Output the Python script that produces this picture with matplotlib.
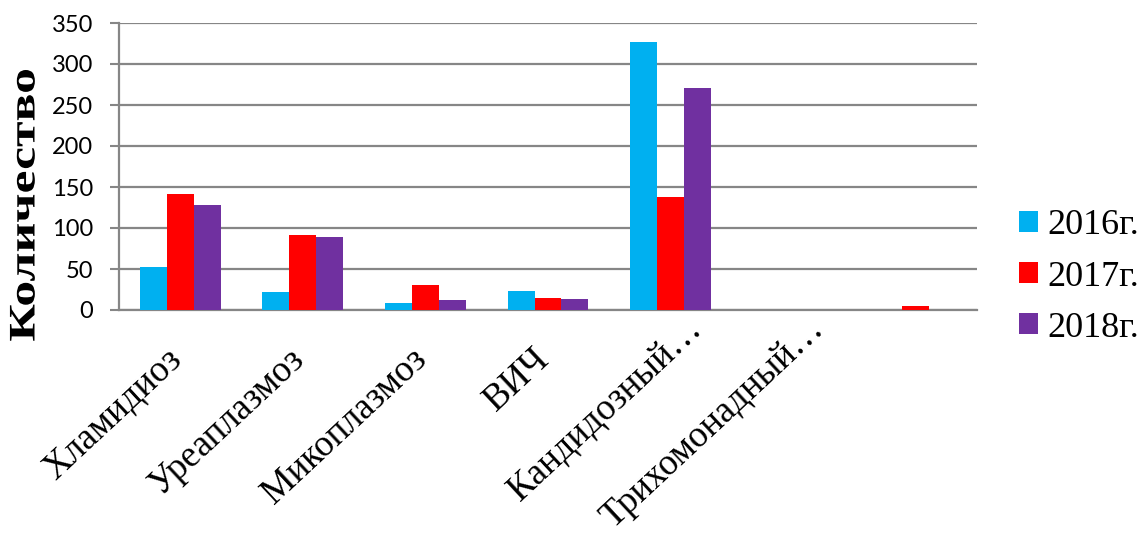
import matplotlib
matplotlib.use("Agg")
import matplotlib.pyplot as plt
from matplotlib.patches import Patch
from matplotlib.patheffects import AbstractPathEffect
from matplotlib.transforms import Affine2D
import numpy as np

categories = ["Хламидиоз", "Уреаплазмоз", "Микоплазмоз", "ВИЧ",
              "Кандидозный…", "Трихомонадный…", ""]
years = ["2016г.", "2017г.", "2018г."]
values_2016 = [52, 22, 9, 23, 327, 0, 0]
values_2017 = [141, 91, 30, 15, 138, 0, 5]
values_2018 = [128, 89, 12, 14, 271, 0, 0]
colors = ["#00B0F0", "#FF0000", "#7030A0"]
y_ticks = [0, 50, 100, 150, 200, 250, 300, 350]

series = [values_2016, values_2017, values_2018]


class VerticalStretch(AbstractPathEffect):
    """Draw the text outline stretched vertically about its own centre."""

    def __init__(self, factor):
        super().__init__()
        self.factor = factor

    def draw_path(self, renderer, gc, tpath, affine, rgbFace=None):
        ext = tpath.get_extents(affine)
        cx, cy = (ext.x0 + ext.x1) / 2, (ext.y0 + ext.y1) / 2
        stretch = Affine2D().translate(-cx, -cy).scale(1, self.factor).translate(cx, cy)
        renderer.draw_path(gc, tpath, affine + stretch, rgbFace)


W, H, DPI = 1146, 533, 100
fig = plt.figure(figsize=(W / DPI, H / DPI), dpi=DPI)
ax = fig.add_axes([119 / W, 1 - 310 / H, (977 - 119) / W, (310 - 23) / H])

grid_color = "#868686"
x = np.arange(len(categories))
bw = 0.22
for k, (vals, col) in enumerate(zip(series, colors)):
    ax.bar(x + (k - 1) * bw, vals, width=bw, color=col, edgecolor="none", zorder=3)

ax.set_xlim(-0.5, len(categories) - 0.5)
ax.set_ylim(0, 350)
ax.set_yticks(y_ticks)
ax.set_yticklabels([str(t) for t in y_ticks], family="Lato", fontsize=17)
ax.tick_params(axis="y", direction="out", length=6.5, width=1.5, color=grid_color, pad=12)
ax.set_xticks([])
ax.yaxis.grid(True, color=grid_color, linewidth=1.6, zorder=0)
ax.set_axisbelow(True)
for s in ["top", "right"]:
    ax.spines[s].set_visible(False)
for s in ["left", "bottom"]:
    ax.spines[s].set_color(grid_color)
    ax.spines[s].set_linewidth(1.6)

# category labels, rotated; shortened names end further along the diagonal
for i, name in enumerate(categories):
    if not name:
        continue
    dx, dy = (32, -21) if name.endswith("…") else (3, -51)
    ax.annotate(name, xy=(i, 0), xycoords=("data", "axes fraction"),
                xytext=(dx, dy), textcoords="offset pixels",
                rotation=43, rotation_mode="anchor", ha="right", va="baseline",
                family="Liberation Serif", fontsize=26.5, annotation_clip=False)

ylab = fig.text(25 / W, 1 - 205 / H, "Количество", rotation=90, ha="center", va="center",
                family="Liberation Serif", fontweight="bold", fontsize=27)
ylab.set_path_effects([VerticalStretch(1.38)])

handles = [Patch(facecolor=c, edgecolor="none") for c in colors]
fig.legend(handles, years, loc="center left", bbox_to_anchor=(1019 / W, 1 - 277 / H),
           frameon=False, prop={"family": "Liberation Serif", "size": 26},
           handlelength=0.53, handleheight=0.53, handletextpad=0.25,
           labelspacing=0.5, borderpad=0, borderaxespad=0)

fig.savefig("out.png", dpi=DPI)
